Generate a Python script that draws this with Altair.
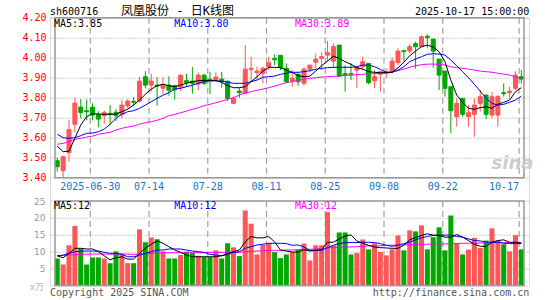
import altair as alt
import pandas as pd

# ---------------- data ----------------
opens = [3.485, 3.435, 3.525, 3.667, 3.753, 3.735, 3.753, 3.717, 3.71, 3.722,
         3.727, 3.717, 3.76, 3.782, 3.783, 3.905, 3.863, 3.863, 3.847, 3.863,
         3.86, 3.853, 3.885, 3.883, 3.868, 3.913, 3.892, 3.89, 3.893, 3.883,
         3.772, 3.833, 3.822, 3.94, 3.925, 3.922, 3.955, 3.997, 4.012, 3.947,
         3.883, 3.917, 3.872, 3.943, 3.977, 3.997, 4.013, 3.983, 4.063, 3.92,
         3.92, 3.938, 3.955, 3.972, 3.885, 3.917, 3.922, 3.93, 3.975, 4.035,
         4.033, 4.07, 4.055, 4.107, 4.093, 3.993, 3.933, 3.855, 3.705, 3.797,
         3.705, 3.717, 3.772, 3.813, 3.713, 3.713, 3.825, 3.825, 3.847, 3.905]
closes = [3.455, 3.505, 3.64, 3.773, 3.725, 3.73, 3.713, 3.693, 3.725, 3.717,
          3.71, 3.763, 3.783, 3.777, 3.883, 3.863, 3.883, 3.858, 3.867, 3.837,
          3.84, 3.912, 3.875, 3.872, 3.913, 3.872, 3.885, 3.903, 3.88, 3.797,
          3.797, 3.825, 3.943, 3.947, 3.933, 3.947, 3.975, 3.99, 3.95, 3.88,
          3.897, 3.88, 3.943, 3.963, 3.993, 4.005, 4.025, 4.055, 3.908, 3.913,
          3.917, 3.952, 3.98, 3.875, 3.905, 3.93, 3.93, 3.983, 4.033, 4.03,
          4.055, 4.055, 4.105, 4.10, 4.033, 3.913, 3.847, 3.735, 3.772, 3.717,
          3.725, 3.763, 3.805, 3.717, 3.805, 3.805, 3.82, 3.833, 3.913, 3.893]
highs = [3.50, 3.51, 3.69, 3.80, 3.793, 3.79, 3.772, 3.732, 3.737, 3.763,
         3.743, 3.79, 3.793, 3.803, 3.903, 3.933, 3.92, 3.903, 3.903, 3.907,
         3.865, 3.917, 3.92, 3.953, 3.927, 3.917, 3.93, 3.927, 3.93, 3.883,
         3.805, 3.85, 4.063, 4.005, 3.955, 3.955, 4.005, 4.017, 4.012, 3.972,
         3.938, 3.927, 3.952, 3.963, 4.022, 4.027, 4.083, 4.072, 4.063, 3.963,
         3.972, 3.955, 4.005, 3.972, 3.938, 3.93, 3.947, 4.0, 4.047, 4.04,
         4.067, 4.08, 4.113, 4.117, 4.093, 3.993, 3.933, 3.855, 3.797, 3.797,
         3.763, 3.797, 3.838, 3.817, 3.83, 3.813, 3.872, 3.855, 3.933, 3.938]
lows = [3.43, 3.40, 3.48, 3.627, 3.698, 3.687, 3.687, 3.652, 3.67, 3.663,
        3.683, 3.697, 3.747, 3.76, 3.777, 3.847, 3.83, 3.76, 3.82, 3.81,
        3.79, 3.833, 3.855, 3.82, 3.837, 3.863, 3.818, 3.88, 3.85, 3.783,
        3.767, 3.80, 3.82, 3.88, 3.888, 3.872, 3.938, 3.963, 3.938, 3.872,
        3.855, 3.86, 3.86, 3.93, 3.947, 3.938, 3.98, 3.95, 3.905, 3.83,
        3.888, 3.85, 3.938, 3.868, 3.847, 3.83, 3.897, 3.922, 3.963, 3.98,
        4.022, 3.945, 4.055, 4.047, 3.95, 3.838, 3.805, 3.622, 3.655, 3.705,
        3.655, 3.605, 3.73, 3.693, 3.697, 3.655, 3.805, 3.797, 3.838, 3.872]
volumes = [8.0, 6.2, 11.9, 17.6, 10.9, 6.2, 8.3, 8.3, 8.0, 6.6,
           10.1, 9.4, 6.6, 6.6, 16.6, 12.8, 14.2, 13.7, 10.1, 8.0,
           8.0, 9.0, 10.0, 9.6, 8.8, 8.4, 8.4, 10.4, 8.0, 12.5,
           11.3, 8.7, 22.2, 18.3, 9.2, 12.0, 12.5, 9.9, 8.1, 9.2,
           9.9, 10.6, 12.4, 7.4, 11.9, 11.9, 21.7, 11.9, 15.7, 15.7,
           9.2, 9.6, 13.6, 10.7, 12.5, 9.9, 8.9, 10.7, 14.8, 10.4,
           16.3, 16.0, 17.8, 10.7, 14.3, 17.2, 10.4, 20.7, 12.5, 9.2,
           10.6, 14.1, 11.1, 13.3, 16.9, 13.3, 12.2, 10.1, 14.9, 10.7]
ma5 = [3.558, 3.53, 3.533, 3.597, 3.663, 3.705, 3.72, 3.718, 3.717, 3.717,
       3.718, 3.73, 3.743, 3.763, 3.788, 3.817, 3.843, 3.86, 3.867, 3.86,
       3.855, 3.863, 3.872, 3.88, 3.885, 3.887, 3.885, 3.885, 3.877, 3.86,
       3.85, 3.85, 3.855, 3.88, 3.905, 3.933, 3.952, 3.952, 3.95, 3.938,
       3.927, 3.91, 3.905, 3.908, 3.933, 3.96, 3.983, 4.007, 3.997, 3.98,
       3.967, 3.95, 3.943, 3.93, 3.927, 3.925, 3.925, 3.927, 3.95, 3.977,
       4.01, 4.033, 4.055, 4.063, 4.053, 4.03, 3.98, 3.888, 3.813, 3.777,
       3.747, 3.742, 3.75, 3.755, 3.747, 3.767, 3.777, 3.788, 3.83, 3.85]
ma10 = [3.617, 3.60, 3.597, 3.60, 3.61, 3.622, 3.623, 3.63, 3.643, 3.667,
        3.697, 3.717, 3.73, 3.735, 3.747, 3.763, 3.78, 3.797, 3.813, 3.825,
        3.843, 3.847, 3.855, 3.863, 3.872, 3.88, 3.885, 3.885, 3.883, 3.877,
        3.872, 3.872, 3.872, 3.88, 3.888, 3.902, 3.905, 3.908, 3.917, 3.922,
        3.927, 3.927, 3.93, 3.935, 3.942, 3.947, 3.95, 3.952, 3.952, 3.952,
        3.952, 3.955, 3.963, 3.963, 3.955, 3.942, 3.927, 3.927, 3.938, 3.955,
        3.98, 3.993, 4.005, 4.017, 4.02, 4.018, 4.013, 3.988, 3.96, 3.93,
        3.90, 3.867, 3.833, 3.797, 3.772, 3.763, 3.767, 3.777, 3.788, 3.808]
ma30 = [3.567, 3.572, 3.58, 3.592, 3.597, 3.603, 3.608, 3.617, 3.622, 3.627,
        3.638, 3.647, 3.653, 3.658, 3.667, 3.675, 3.68, 3.687, 3.697, 3.71,
        3.717, 3.725, 3.733, 3.742, 3.75, 3.76, 3.767, 3.775, 3.783, 3.792,
        3.80, 3.813, 3.825, 3.83, 3.837, 3.843, 3.85, 3.858, 3.867, 3.875,
        3.88, 3.887, 3.893, 3.897, 3.90, 3.903, 3.905, 3.907, 3.908, 3.912,
        3.913, 3.915, 3.917, 3.92, 3.92, 3.922, 3.925, 3.93, 3.935, 3.943,
        3.952, 3.96, 3.965, 3.968, 3.968, 3.967, 3.963, 3.955, 3.95, 3.947,
        3.943, 3.938, 3.933, 3.93, 3.927, 3.922, 3.918, 3.913, 3.905, 3.897]
vol_ma5 = [8.8, 8.2, 9.5, 11.0, 11.0, 10.8, 10.8, 10.0, 8.8, 7.6,
           8.2, 8.5, 7.8, 7.8, 9.5, 11.0, 12.2, 13.2, 12.5, 11.5,
           10.5, 9.8, 9.0, 8.5, 8.5, 8.5, 8.5, 8.5, 8.8, 9.5,
           10.0, 10.5, 12.9, 14.5, 14.1, 14.1, 14.5, 12.9, 10.5, 10.2,
           9.9, 9.9, 10.6, 10.2, 10.4, 10.6, 12.8, 12.8, 13.8, 14.6,
           15.0, 13.2, 12.5, 11.9, 11.4, 11.2, 11.1, 11.0, 11.0, 11.9,
           13.5, 14.2, 14.8, 15.3, 14.9, 14.8, 14.3, 14.3, 15.1, 14.3,
           13.3, 12.2, 11.6, 11.6, 12.8, 13.3, 13.5, 12.8, 12.8, 12.5]
vol_ma10 = [8.8, 9.0, 9.5, 10.0, 10.2, 10.2, 10.2, 10.2, 9.8, 9.5,
            9.5, 9.2, 8.5, 8.5, 9.0, 9.5, 10.0, 10.5, 10.5, 10.8,
            10.8, 10.8, 10.5, 10.2, 10.0, 9.8, 9.2, 9.0, 8.8, 9.2,
            9.8, 10.0, 11.0, 11.5, 12.0, 12.2, 12.5, 12.5, 12.5, 12.4,
            11.9, 12.0, 11.4, 10.4, 10.4, 10.4, 11.2, 11.9, 12.4, 12.7,
            12.7, 12.7, 12.8, 12.8, 12.7, 12.4, 11.9, 11.6, 11.9, 12.4,
            12.8, 13.5, 14.1, 14.5, 14.8, 14.9, 14.9, 14.9, 14.5, 14.3,
            13.8, 13.3, 13.2, 12.8, 12.8, 12.8, 12.5, 12.4, 12.4, 12.4]
vol_ma30 = [8.8, 8.9, 9.0, 9.1, 9.2, 9.3, 9.3, 9.3, 9.3, 9.3,
            9.3, 9.3, 9.3, 9.2, 9.3, 9.4, 9.5, 9.6, 9.7, 9.7,
            9.7, 9.7, 9.7, 9.7, 9.7, 9.7, 9.8, 9.8, 9.8, 9.8,
            9.8, 9.8, 10.0, 10.1, 10.2, 10.3, 10.4, 10.4, 10.4, 10.5,
            10.5, 10.6, 10.7, 10.7, 10.8, 10.9, 11.1, 11.2, 11.3, 11.4,
            11.4, 11.5, 11.6, 11.7, 11.7, 11.8, 11.9, 11.9, 12.0, 12.0,
            12.1, 12.1, 12.2, 12.2, 12.3, 12.3, 12.3, 12.4, 12.4, 12.5,
            12.5, 12.5, 12.6, 12.6, 12.6, 12.7, 12.7, 12.7, 12.7, 12.7]

tick_index = [6, 16, 26, 36, 46, 56, 66, 79]
tick_labels = ["2025-06-30", "07-14", "07-28", "08-11", "08-25", "09-08", "09-22", "10-17"]
price_ticks = [3.40, 3.50, 3.60, 3.70, 3.80, 3.90, 4.00, 4.10, 4.20]
volume_ticks = [5, 10, 15, 20, 25]

code_text = "sh600716"
title_text = "凤凰股份 - 日K线图"
time_text = "2025-10-17 15:00:00"
price_ma_labels = ["MA5:3.85", "MA10:3.80", "MA30:3.89"]
volume_ma_labels = ["MA5:12", "MA10:12", "MA30:12"]
unit_text = "x万"
copyright_text = "Copyright 2025 SINA.COM"
url_text = "http://finance.sina.com.cn"
watermark_text = "sina"

# ---------------- styling ----------------
RED = "#ff5656"
GREEN = "#00a800"
MA_COLORS = ["#000000", "#0000ff", "#ff00ff"]
GRID = "#a0a0a0"
MONO = "DejaVu Sans Mono"

W, H = 479, 267.8
X_MIN = -0.383
X_MAX = X_MIN + W / 6.0
P_TOP, P_BOT = price_ticks[-1], price_ticks[0]
P_MIN = P_TOP - H * 0.005          # price scale extended below the price panel
V_MAX = volume_ticks[-1] * H / 84.5  # volume scale extended above the volume panel

df = pd.DataFrame({
    "i": list(range(len(closes))), "open": opens, "close": closes,
    "high": highs, "low": lows, "vol": volumes,
    "ma5": ma5, "ma10": ma10, "ma30": ma30,
    "vma5": vol_ma5, "vma10": vol_ma10, "vma30": vol_ma30,
})
df["up"] = df["close"] >= df["open"]

xs = alt.Scale(domain=[X_MIN, X_MAX], nice=False, zero=False)
ps = alt.Scale(domain=[P_MIN, P_TOP], nice=False, zero=False)
vs = alt.Scale(domain=[0, V_MAX], nice=False, zero=True)

paxis = alt.Axis(values=price_ticks, format=".2f", orient="left", title=None,
                 labelColor="#ff0000", labelFont=MONO, labelFontSize=10,
                 labelPadding=4, ticks=False, tickSize=0, domain=False,
                 labelFlush=False, labelOverlap=False,
                 grid=True, gridColor="#999999", gridDash=[1, 2], gridWidth=1)
vaxis = alt.Axis(values=volume_ticks, format="d", orient="left", title=None,
                 labelColor="#999999", labelFont="DejaVu Sans", labelFontSize=9,
                 labelPadding=5, ticks=False, tickSize=0, domain=False,
                 labelFlush=False, labelOverlap=False,
                 grid=True, gridColor="#999999", gridDash=[1, 2], gridWidth=1)

X = lambda f: alt.X(f, type="quantitative", scale=xs, axis=None)
YP = lambda f: alt.Y(f, type="quantitative", scale=ps, axis=paxis)
YV = lambda f: alt.Y(f, type="quantitative", scale=vs, axis=vaxis, stack=None)

gdf = pd.DataFrame({"xpos": [t - 0.38 for t in tick_index], "label": tick_labels,
                    "ptop": P_TOP, "pbot": P_BOT, "vtop": volume_ticks[-1], "vbot": 0})
bdf = pd.DataFrame({"x0": [X_MIN], "x1": [X_MAX], "ptop": [P_TOP], "pbot": [P_BOT],
                    "vtop": [volume_ticks[-1]], "vbot": [0]})

base = alt.Chart(df)
up_df = base.transform_filter("datum.up")
dn_df = base.transform_filter("!datum.up")

# ---------------- price panel ----------------
pv_grid = alt.Chart(gdf).mark_rule(color=GRID, strokeDash=[6, 4], strokeWidth=1.2).encode(
    x=X("xpos"), y=YP("ptop"), y2="pbot:Q")
wick_up = up_df.mark_rule(color=RED, strokeWidth=1).encode(x=X("i"), y=YP("low"), y2="high:Q")
wick_dn = dn_df.mark_rule(color=GREEN, strokeWidth=1).encode(x=X("i"), y=YP("low"), y2="high:Q")
body_up = up_df.mark_bar(size=4, fill=RED, stroke=RED, strokeWidth=1).encode(
    x=X("i"), y=YP("open"), y2="close:Q")
body_dn = dn_df.mark_bar(size=4, fill=GREEN, stroke=GREEN, strokeWidth=1).encode(
    x=X("i"), y=YP("open"), y2="close:Q")
ma_lines = [base.mark_line(color=c, strokeWidth=1).encode(x=X("i"), y=YP(f))
            for f, c in zip(["ma30", "ma10", "ma5"], MA_COLORS[::-1])]
p_border = alt.Chart(bdf).mark_rect(fillOpacity=0, stroke="#999999", strokeWidth=1.5).encode(
    x=X("x0"), x2="x1:Q", y=YP("ptop"), y2="pbot:Q")
price = alt.layer(pv_grid, wick_up, wick_dn, body_up, body_dn, *ma_lines, p_border)

# ---------------- volume panel ----------------
vv_grid = alt.Chart(gdf).mark_rule(color=GRID, strokeDash=[6, 4], strokeWidth=1.2).encode(
    x=X("xpos"), y=YV("vtop"), y2="vbot:Q")
vbar_up = up_df.mark_bar(size=5, color=RED).encode(x=X("i"), y=YV("vol"))
vbar_dn = dn_df.mark_bar(size=5, color=GREEN).encode(x=X("i"), y=YV("vol"))
vma_lines = [base.mark_line(color=c, strokeWidth=1).encode(x=X("i"), y=YV(f))
             for f, c in zip(["vma30", "vma10", "vma5"], MA_COLORS[::-1])]
v_border = alt.Chart(bdf).mark_rect(fillOpacity=0, stroke="#999999", strokeWidth=1.5).encode(
    x=X("x0"), x2="x1:Q", y=YV("vtop"), y2="vbot:Q")
volume = alt.layer(vv_grid, vbar_up, vbar_dn, *vma_lines, v_border)

# ---------------- texts ----------------
def label(text, x, y, color="#000000", align="left", size=10, font=MONO, **kw):
    return alt.Chart(alt.Data(values=[{"t": text}])).mark_text(
        align=align, baseline="middle", font=font, fontSize=size, color=color, **kw
    ).encode(x=alt.value(x), y=alt.value(y), text="t:N")

xlab_mid = alt.Chart(gdf.iloc[:-1]).mark_text(
    align="center", baseline="middle", font=MONO, fontSize=10, color="#1177cc").encode(
    x=X("xpos"), y=alt.value(168.8), text="label:N")
xlab_last = alt.Chart(gdf.iloc[-1:]).mark_text(
    align="right", baseline="middle", font=MONO, fontSize=10, color="#1177cc").encode(
    x=X("xpos"), y=alt.value(168.8), text="label:N")

texts = alt.layer(
    label(code_text, 0, -6),
    label(title_text, 127.5, -6.5, align="center", size=12, font=MONO + ", Noto Sans CJK SC"),
    label(time_text, 479.3, -6, align="right"),
    label(price_ma_labels[0], 4, 5.8, MA_COLORS[0]),
    label(price_ma_labels[1], 124.3, 5.8, MA_COLORS[1]),
    label(price_ma_labels[2], 245, 5.8, MA_COLORS[2]),
    label(volume_ma_labels[0], 4, 188.3, MA_COLORS[0]),
    label(volume_ma_labels[1], 124.3, 188.3, MA_COLORS[1]),
    label(volume_ma_labels[2], 245, 188.3, MA_COLORS[2]),
    label(unit_text, -6, 269.5, "#bbbbbb", align="right", size=9, font="DejaVu Sans, Noto Sans CJK SC"),
    label(copyright_text, 0, 274.8, "#555555"),
    label(url_text, 479.3, 274.8, "#555555", align="right"),
    label(watermark_text, 462.5, 146, "#cccccc", align="center", size=18,
          font="DejaVu Sans", fontWeight="bold", fontStyle="italic"),
    xlab_mid, xlab_last,
)

chart = alt.layer(price, volume, texts).resolve_scale(y="independent").properties(
    width=W, height=H,
    autosize=alt.AutoSizeParams(type="none"),
    padding={"left": 50, "top": 17.7, "right": 16, "bottom": 300 - 17.7 - H},
).configure_view(stroke=None).configure(background="white")

chart.save("out.html", embed_options={"renderer": "svg", "actions": False})
